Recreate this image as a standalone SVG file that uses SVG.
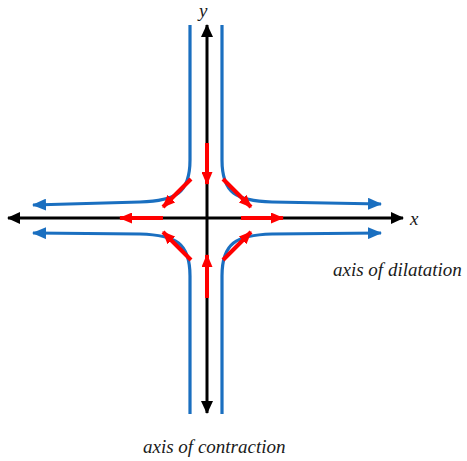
<svg xmlns="http://www.w3.org/2000/svg" width="467" height="461" viewBox="0 0 467 461">
<style>
.blue{fill:none;stroke:#1a6fc0;stroke-width:3.2;stroke-linecap:butt}
.axis{fill:none;stroke:#000;stroke-width:3}
.red{fill:none;stroke:#ff0000;stroke-width:4}
</style>
<defs>
<marker id="ab" markerUnits="userSpaceOnUse" markerWidth="14" markerHeight="12" refX="13" refY="6" orient="auto-start-reverse" viewBox="0 0 14 12"><path d="M0,0 L14,6 L0,12 Z" fill="#1a6fc0"/></marker>
<marker id="ak" markerUnits="userSpaceOnUse" markerWidth="13" markerHeight="12" refX="12" refY="6" orient="auto-start-reverse" viewBox="0 0 13 12"><path d="M0,0 L13,6 L0,12 Z" fill="#000"/></marker>
<marker id="ar" markerUnits="userSpaceOnUse" markerWidth="13" markerHeight="11" refX="12" refY="5.5" orient="auto" viewBox="0 0 13 11"><path d="M0,0 L13,5.5 L0,11 Z" fill="#ff0000"/></marker>
</defs>
<g id="connectors">
<g id="hyperbolas">
<path class="blue" d="M190,25 V160 C190,193 176,201 140,202 L33,205" marker-end="url(#ab)"/>
<path class="blue" d="M222,25 V160 C222,193 236,201 272,202 L381,204" marker-end="url(#ab)"/>
<path class="blue" d="M190,414 V276 C190,243 176,235 140,234 L33,233" marker-end="url(#ab)"/>
<path class="blue" d="M222,414 V276 C222,243 236,235 272,234 L381,233" marker-end="url(#ab)"/>
</g>
<g id="axes">
<path class="axis" d="M207,413 V25" marker-start="url(#ak)" marker-end="url(#ak)"/>
<path class="axis" d="M8,218 H403" marker-start="url(#ak)" marker-end="url(#ak)"/>
</g>
<g id="flow">
<path class="red" d="M207,143 V184" marker-end="url(#ar)"/>
<path class="red" d="M207,298 V255" marker-end="url(#ar)"/>
<path class="red" d="M163,218 H120" marker-end="url(#ar)"/>
<path class="red" d="M241,218 H283" marker-end="url(#ar)"/>
<path class="red" d="M191,179 L163,207" marker-end="url(#ar)"/>
<path class="red" d="M223,179 L251,207" marker-end="url(#ar)"/>
<path class="red" d="M191,260 L163,232" marker-end="url(#ar)"/>
<path class="red" d="M223,260 L251,232" marker-end="url(#ar)"/>
</g>
</g>
<g id="labels" font-family="Liberation Serif" font-style="italic" font-size="19" fill="#1a1a1a">
<text x="199" y="17">y</text>
<text x="410" y="225">x</text>
<text x="333" y="276">axis of dilatation</text>
<text x="143" y="453">axis of contraction</text>
</g>
</svg>
